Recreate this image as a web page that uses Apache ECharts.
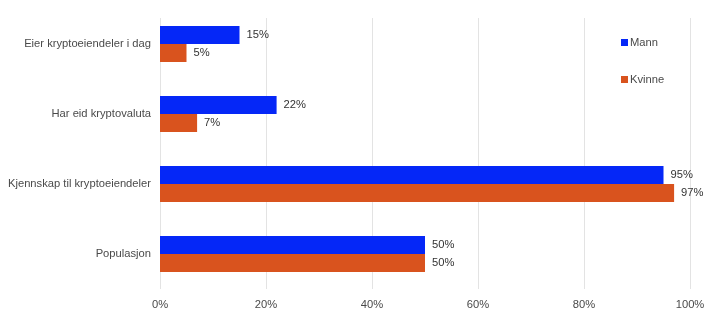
<!DOCTYPE html>
<html>
<head>
<meta charset="utf-8">
<script src="https://cdn.jsdelivr.net/npm/echarts@6/dist/echarts.min.js"></script>
<style>
  html, body { margin: 0; padding: 0; background: #ffffff; }
  #chart { width: 722px; height: 323px; }
</style>
</head>
<body>
<div id="chart"></div>
<script>
// Survey categories, listed top to bottom
const categories = [
  'Eier kryptoeiendeler i dag',
  'Har eid kryptovaluta',
  'Kjennskap til kryptoeiendeler',
  'Populasjon'
];
// Share of each group, in percent
const mannValues = [15, 22, 95, 50];
const kvinneValues = [5, 7, 97, 50];
const xTicks = [0, 20, 40, 60, 80, 100];

const FONT = '"Liberation Sans", Arial, sans-serif';
const BLUE = '#0527f7';
const ORANGE = '#d9531e';
const TEXT = '#4a4a4a';

const chart = echarts.init(document.getElementById('chart'), null, { renderer: 'canvas' });

const labelStyle = {
  show: true,
  position: 'right',
  distance: 7,
  formatter: p => p.value + '%',
  color: '#333333',
  fontFamily: FONT,
  fontSize: 11.2
};

chart.setOption({
  animation: false,
  backgroundColor: '#ffffff',
  legend: {
    orient: 'vertical',
    left: 616,
    top: 32,
    itemWidth: 7,
    itemHeight: 7,
    itemGap: 26,
    icon: 'rect',
    textStyle: { color: TEXT, fontFamily: FONT, fontSize: 11.2, padding: [0, 0, 0, -3] },
    data: ['Mann', 'Kvinne']
  },
  grid: [
    { left: 160, right: 32, top: 9, bottom: 34 },
    // grid used only for the vertical gridlines
    { left: 160, right: 32, top: 18, bottom: 34 }
  ],
  xAxis: [
    {
      gridIndex: 0,
      type: 'value',
      min: xTicks[0],
      max: xTicks[xTicks.length - 1],
      interval: 20,
      axisLine: { show: false },
      axisTick: { show: false },
      splitLine: { show: false },
      axisLabel: {
        formatter: v => v + '%',
        color: TEXT,
        fontFamily: FONT,
        fontSize: 11.2,
        margin: 10
      }
    },
    {
      gridIndex: 1,
      type: 'value',
      min: xTicks[0],
      max: xTicks[xTicks.length - 1],
      interval: 20,
      axisLine: { show: false },
      axisTick: { show: false },
      axisLabel: { show: false },
      splitLine: { show: true, lineStyle: { color: '#e3e3e3', width: 1 } }
    }
  ],
  yAxis: [
    {
      gridIndex: 0,
      type: 'category',
      data: categories,
      inverse: true,
      axisLine: { show: false },
      axisTick: { show: false },
      axisLabel: {
        color: TEXT,
        fontFamily: FONT,
        fontSize: 11.2,
        margin: 9
      }
    },
    {
      gridIndex: 1,
      type: 'category',
      data: categories,
      show: false
    }
  ],
  series: [
    {
      name: 'Mann',
      type: 'bar',
      xAxisIndex: 0,
      yAxisIndex: 0,
      data: mannValues,
      barWidth: 18,
      barGap: '0%',
      itemStyle: { color: BLUE },
      label: labelStyle
    },
    {
      name: 'Kvinne',
      type: 'bar',
      xAxisIndex: 0,
      yAxisIndex: 0,
      data: kvinneValues,
      barWidth: 18,
      barGap: '0%',
      itemStyle: { color: ORANGE },
      label: labelStyle
    }
  ]
});
</script>
</body>
</html>
